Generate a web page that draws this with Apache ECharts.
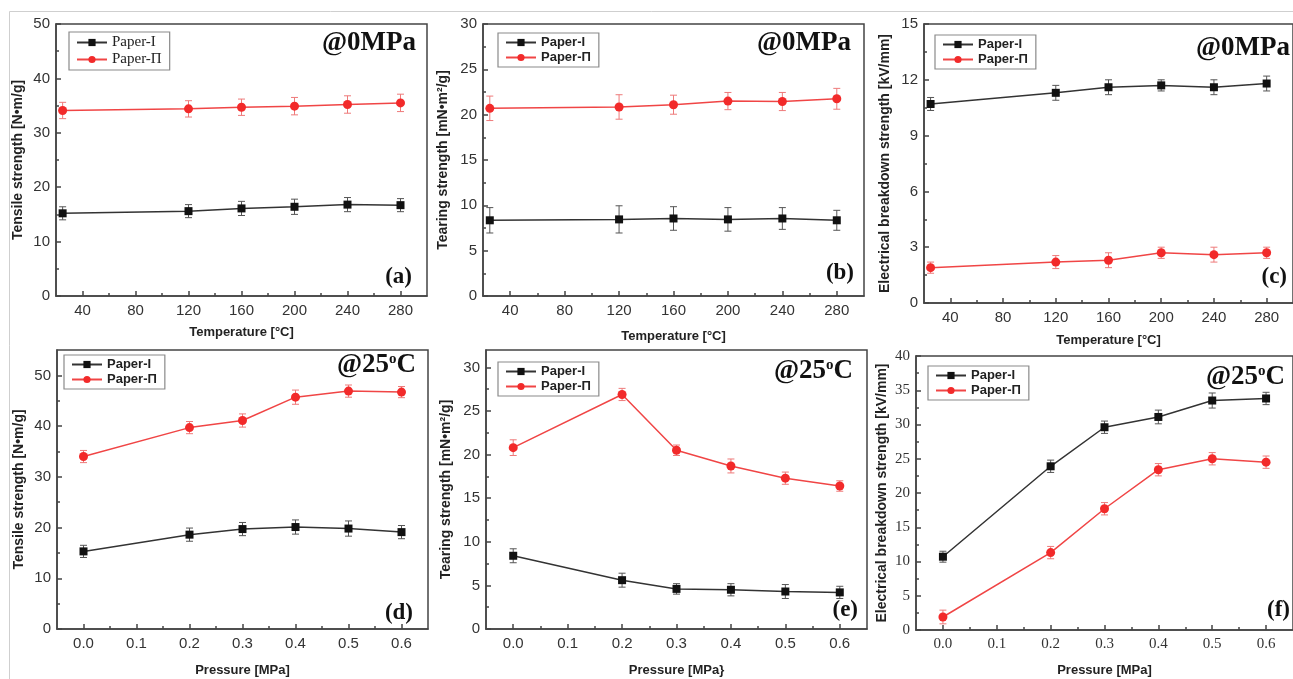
<!DOCTYPE html>
<html><head><meta charset="utf-8">
<script src="https://cdn.jsdelivr.net/npm/echarts@6/dist/echarts.min.js"></script>
<style>html,body{margin:0;padding:0;background:#fff}#c{width:1293px;height:679px}</style>
</head><body><div id="c"></div>
<script>
// ---------- data ----------
const seriesNames = ['Paper-I', 'Paper-Π'];
const temperature = [25, 120, 160, 200, 240, 280];
const pressure = [0, 0.2, 0.3, 0.4, 0.5, 0.6];

// (a) tensile strength vs temperature
const tensileTempI = [15.2, 15.6, 16.1, 16.4, 16.8, 16.7];
const tensileTempIErr = [1.2, 1.2, 1.3, 1.4, 1.3, 1.2];
const tensileTempII = [34.1, 34.4, 34.7, 34.9, 35.2, 35.5];
const tensileTempIIErr = [1.5, 1.5, 1.5, 1.6, 1.6, 1.6];
// (b) tearing strength vs temperature
const tearingTempI = [8.35, 8.45, 8.55, 8.45, 8.55, 8.35];
const tearingTempIErr = [1.4, 1.5, 1.3, 1.3, 1.2, 1.1];
const tearingTempII = [20.7, 20.85, 21.1, 21.5, 21.45, 21.75];
const tearingTempIIErr = [1.35, 1.35, 1.05, 0.95, 1.0, 1.15];
// (c) breakdown strength vs temperature
const breakdownTempI = [10.7, 11.3, 11.6, 11.7, 11.6, 11.8];
const breakdownTempIErr = [0.35, 0.4, 0.4, 0.3, 0.4, 0.4];
const breakdownTempII = [1.9, 2.2, 2.3, 2.7, 2.6, 2.7];
const breakdownTempIIErr = [0.3, 0.35, 0.4, 0.3, 0.4, 0.3];
// (d) tensile strength vs pressure
const tensilePressI = [15.3, 18.6, 19.7, 20.1, 19.8, 19.1];
const tensilePressIErr = [1.2, 1.3, 1.3, 1.4, 1.5, 1.3];
const tensilePressII = [34.0, 39.7, 41.1, 45.7, 46.9, 46.7];
const tensilePressIIErr = [1.2, 1.2, 1.3, 1.4, 1.2, 1.1];
// (e) tearing strength vs pressure
const tearingPressI = [8.4, 5.6, 4.6, 4.5, 4.3, 4.2];
const tearingPressIErr = [0.8, 0.8, 0.6, 0.7, 0.8, 0.7];
const tearingPressII = [20.8, 26.9, 20.5, 18.7, 17.3, 16.4];
const tearingPressIIErr = [0.9, 0.7, 0.6, 0.8, 0.7, 0.6];
// (f) breakdown strength vs pressure
const breakdownPressI = [10.7, 23.9, 29.6, 31.1, 33.5, 33.8];
const breakdownPressIErr = [0.8, 0.9, 0.9, 1.0, 1.1, 0.9];
const breakdownPressII = [1.9, 11.3, 17.7, 23.4, 25.0, 24.5];
const breakdownPressIIErr = [1.0, 0.9, 0.9, 0.9, 0.9, 0.9];

// ---------- tick labels ----------
const tempTicks = [40, 80, 120, 160, 200, 240, 280];
const pressureTicks = [0, 0.1, 0.2, 0.3, 0.4, 0.5, 0.6];
const tensileTicks = [0, 10, 20, 30, 40, 50];
const tearingTicks = [0, 5, 10, 15, 20, 25, 30];
const breakdownTempTicks = [0, 3, 6, 9, 12, 15];
const breakdownPressTicks = [0, 5, 10, 15, 20, 25, 30, 35, 40];

// ---------- layout ----------
const SANS = '"Liberation Sans", Arial, sans-serif';
const SERIF = '"Liberation Serif", "Times New Roman", serif';
const panels = [
  {grid:{left:56, top:24, width:371, height:272}, x:temperature, xr:[20,300], xt:tempTicks, xf:v=>String(v),
   yr:[0,50], yt:tensileTicks, I:tensileTempI, IE:tensileTempIErr, II:tensileTempII, IIE:tensileTempIIErr,
   yName:'Tensile strength [N•m/g]', yGap:31, xName:'Temperature [°C]', xGap:30, tickFont:SANS,
   legend:{left:69, top:32}, legendSerif:true, cond:'@0MPa', condPos:[416,43], tag:'(a)', tagPos:[412,277]},
  {grid:{left:483, top:24, width:381, height:272}, x:temperature, xr:[20,300], xt:tempTicks, xf:v=>String(v),
   yr:[0,30], yt:tearingTicks, I:tearingTempI, IE:tearingTempIErr, II:tearingTempII, IIE:tearingTempIIErr,
   yName:'Tearing strength [mN•m²/g]', yGap:33, xName:'Temperature [°C]', xGap:34, tickFont:SANS,
   legend:{left:498, top:33}, cond:'@0MPa', condPos:[851,43], tag:'(b)', tagPos:[854,273]},
  {grid:{left:924, top:24, width:378, height:279}, x:temperature, xr:[20,300], xt:tempTicks, xf:v=>String(v),
   yr:[0,15], yt:breakdownTempTicks, I:breakdownTempI, IE:breakdownTempIErr, II:breakdownTempII, IIE:breakdownTempIIErr,
   yName:'Electrical breakdown strength [kV/mm]', yGap:32, xName:'Temperature [°C]', xGap:31, tickFont:SANS,
   legend:{left:935, top:35}, cond:'@0MPa', condPos:[1290,48], tag:'(c)', tagPos:[1287,277]},
  {grid:{left:57, top:350, width:371, height:279}, x:pressure, xr:[-0.05,0.65], xt:pressureTicks, xf:v=>v.toFixed(1),
   yr:[0,55], yt:tensileTicks, I:tensilePressI, IE:tensilePressIErr, II:tensilePressII, IIE:tensilePressIIErr,
   yName:'Tensile strength [N•m/g]', yGap:31, xName:'Pressure [MPa]', xGap:35, tickFont:SANS,
   legend:{left:64, top:355}, cond:'@25', condPos:[416,365], tag:'(d)', tagPos:[413,613]},
  {grid:{left:486, top:350, width:381, height:279}, x:pressure, xr:[-0.05,0.65], xt:pressureTicks, xf:v=>v.toFixed(1),
   yr:[0,32], yt:tearingTicks, I:tearingPressI, IE:tearingPressIErr, II:tearingPressII, IIE:tearingPressIIErr,
   yName:'Tearing strength [mN•m²/g]', yGap:33, xName:'Pressure [MPa}', xGap:35, tickFont:SANS,
   legend:{left:498, top:362}, cond:'@25', condPos:[853,371], tag:'(e)', tagPos:[858,610]},
  {grid:{left:916, top:356, width:383, height:274}, x:pressure, xr:[-0.05,0.65], xt:pressureTicks, xf:v=>v.toFixed(1),
   yr:[0,40], yt:breakdownPressTicks, I:breakdownPressI, IE:breakdownPressIErr, II:breakdownPressII, IIE:breakdownPressIIErr,
   yName:'Electrical breakdown strength [kV/mm]', yGap:27, xName:'Pressure [MPa]', xGap:34, tickFont:SERIF,
   legend:{left:928, top:366}, cond:'@25', condPos:[1285,377], tag:'(f)', tagPos:[1290,610]}
];

const mids = arr => arr.slice(1).map((v, i) => (v + arr[i]) / 2);
const AX = '#444';

function errRender(params, api) {
  const x = api.value(0), y = api.value(1), e = api.value(2);
  const lo = api.coord([x, y - e]), hi = api.coord([x, y + e]);
  const w = 3.5;
  const style = {stroke: api.visual('color'), lineWidth: 1};
  return {type: 'group', children: [
    {type: 'line', shape: {x1: lo[0], y1: lo[1], x2: hi[0], y2: hi[1]}, style},
    {type: 'line', shape: {x1: lo[0] - w, y1: lo[1], x2: lo[0] + w, y2: lo[1]}, style},
    {type: 'line', shape: {x1: hi[0] - w, y1: hi[1], x2: hi[0] + w, y2: hi[1]}, style}
  ]};
}

const grids = [], xAxes = [], yAxes = [], series = [], legends = [], graphics = [];

graphics.push({type: 'rect', z: -10, shape: {x: 9.5, y: 11.5, width: 1400, height: 800},
  style: {fill: 'none', stroke: '#cfcfcf', lineWidth: 1}});

panels.forEach((p, i) => {
  grids.push(Object.assign({show: true, borderColor: AX, borderWidth: 1.5, containLabel: false}, p.grid));
  const xNameStyle = {fontFamily: SANS, fontWeight: 'bold', fontSize: 13, color: '#222'};
  const yNameStyle = {fontFamily: SANS, fontWeight: 'bold', fontSize: 14, color: '#222'};
  const tickFontSize = 15;
  xAxes.push({
    type: 'value', gridIndex: i, position: 'bottom', min: p.xr[0], max: p.xr[1],
    name: p.xName, nameLocation: 'middle', nameGap: p.xGap, nameTextStyle: xNameStyle,
    axisLine: {onZero: false, lineStyle: {color: AX, width: 1.5}},
    axisTick: {inside: true, length: 5, customValues: p.xt, lineStyle: {color: AX, width: 1.5}},
    axisLabel: {customValues: p.xt, formatter: p.xf, margin: 7, color: '#333', fontSize: tickFontSize, fontFamily: p.tickFont},
    splitLine: {show: false}
  });
  xAxes.push({
    type: 'value', gridIndex: i, position: 'bottom', min: p.xr[0], max: p.xr[1],
    axisLine: {show: false, onZero: false},
    axisTick: {inside: true, length: 3, customValues: mids(p.xt), lineStyle: {color: AX, width: 1.5}},
    axisLabel: {show: false}, splitLine: {show: false}
  });
  yAxes.push({
    type: 'value', gridIndex: i, position: 'left', min: p.yr[0], max: p.yr[1],
    name: p.yName, nameLocation: 'middle', nameGap: p.yGap, nameRotate: 90, nameTextStyle: yNameStyle,
    axisLine: {onZero: false, lineStyle: {color: AX, width: 1.5}},
    axisTick: {inside: true, length: 5, customValues: p.yt, lineStyle: {color: AX, width: 1.5}},
    axisLabel: {customValues: p.yt, margin: 6, color: '#333', fontSize: tickFontSize, fontFamily: p.tickFont},
    splitLine: {show: false}
  });
  yAxes.push({
    type: 'value', gridIndex: i, position: 'left', min: p.yr[0], max: p.yr[1],
    axisLine: {show: false, onZero: false},
    axisTick: {inside: true, length: 3, customValues: mids(p.yt), lineStyle: {color: AX, width: 1.5}},
    axisLabel: {show: false}, splitLine: {show: false}
  });
  const xi = 2 * i, yi = 2 * i;
  series.push({
    type: 'custom', name: 'errI' + i, xAxisIndex: xi, yAxisIndex: yi, renderItem: errRender,
    itemStyle: {color: '#555'}, encode: {x: 0, y: 1}, z: 1,
    data: p.x.map((v, k) => [v, p.I[k], p.IE[k]])
  });
  series.push({
    type: 'custom', name: 'errII' + i, xAxisIndex: xi, yAxisIndex: yi, renderItem: errRender,
    itemStyle: {color: '#ee7a7a'}, encode: {x: 0, y: 1}, z: 1,
    data: p.x.map((v, k) => [v, p.II[k], p.IIE[k]])
  });
  series.push({
    type: 'line', name: seriesNames[0], xAxisIndex: xi, yAxisIndex: yi, z: 3,
    symbol: 'rect', symbolSize: 8, itemStyle: {color: '#111'},
    lineStyle: {color: '#333', width: 1.5},
    data: p.x.map((v, k) => [v, p.I[k]])
  });
  series.push({
    type: 'line', name: seriesNames[1], xAxisIndex: xi, yAxisIndex: yi, z: 3,
    symbol: 'circle', symbolSize: 9, itemStyle: {color: '#f22a2a'},
    lineStyle: {color: '#f04545', width: 1.5},
    data: p.x.map((v, k) => [v, p.II[k]])
  });
  legends.push({
    data: seriesNames, orient: 'vertical', left: p.legend.left, top: p.legend.top,
    padding: [3, 8, 3, 7], itemGap: 2, itemWidth: 30, itemHeight: 9,
    borderColor: '#8a8a8a', borderWidth: 1.2, backgroundColor: '#fff',
    selectedMode: false,
    textStyle: p.legendSerif
      ? {fontFamily: SERIF, fontSize: 15, color: '#222'}
      : {fontFamily: SANS, fontWeight: 'bold', fontSize: 13, color: '#222'}
  });
  if (p.cond === '@25') {
    graphics.push({type: 'text', z: 10, style: {
      x: p.condPos[0], y: p.condPos[1], align: 'right', verticalAlign: 'middle',
      text: '{a|@25}{s|o}{a|C}',
      rich: {a: {fontFamily: SERIF, fontWeight: 'bold', fontSize: 27, fill: '#111'},
             s: {fontFamily: SERIF, fontWeight: 'bold', fontSize: 15, fill: '#111', verticalAlign: 'top'}}
    }});
  } else {
    graphics.push({type: 'text', z: 10, style: {
      x: p.condPos[0], y: p.condPos[1], align: 'right', verticalAlign: 'middle',
      text: p.cond, font: 'bold 27px ' + SERIF, fill: '#111'
    }});
  }
  graphics.push({type: 'text', z: 10, style: {
    x: p.tagPos[0], y: p.tagPos[1], align: 'right', verticalAlign: 'middle',
    text: p.tag, font: 'bold 23px ' + SERIF, fill: '#111'
  }});
});

const chart = echarts.init(document.getElementById('c'), null, {renderer: 'canvas'});
chart.setOption({
  animation: false,
  backgroundColor: '#fff',
  grid: grids, xAxis: xAxes, yAxis: yAxes, series, legend: legends, graphic: graphics
});
</script>
</body></html>
